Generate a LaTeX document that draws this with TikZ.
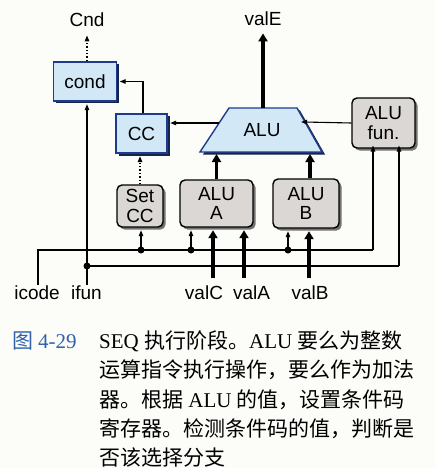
\documentclass[tikz,border=0pt]{standalone}
\usepackage{fontspec}
\usetikzlibrary{shadows,arrows.meta,calc}
\newfontfamily\lab{Liberation Sans}
\newfontfamily\cjk{Noto Sans CJK SC}
\newfontfamily\capser{Liberation Serif}
\newcommand\czh{\cjk\fontsize{21}{21}\selectfont}
\newcommand\ltn{\capser\fontsize{21}{21}\selectfont}
\definecolor{bfill}{HTML}{D3E8F7}
\definecolor{bline}{HTML}{1E3C8E}
\definecolor{bshad}{HTML}{16234A}
\definecolor{gfill}{HTML}{DAD7D4}
\definecolor{capblue}{HTML}{2F62AA}
\definecolor{bgc}{HTML}{FCFCF8}
\begin{document}
\begin{tikzpicture}[x=1pt,y=-1pt,
  bluebox/.style={draw=bline, line width=1.4pt, fill=bfill,
    general shadow={fill=bshad, shadow xshift=2.5pt, shadow yshift=-2.5pt},
    font=\lab\fontsize{19}{20}\selectfont, inner sep=0pt},
  graybox/.style={draw=black, line width=1.4pt, fill=gfill, rounded corners=5pt,
    general shadow={fill=black!55, shadow xshift=2.5pt, shadow yshift=-2.5pt},
    align=center, font=\lab\fontsize{19}{19.5}\selectfont, inner sep=0pt},
  lbl/.style={font=\lab\fontsize{19}{20}\selectfont, inner sep=0pt, anchor=base},
  thinarrow/.style={line width=1.1pt, -{Triangle[length=6pt,width=4.5pt]}},
  thinline/.style={line width=1.1pt},
  thickarrow/.style={line width=3.6pt, -{Triangle[length=8pt,width=9pt]}},
  dotarrow/.style={line width=1.4pt, dotted, -{Triangle[length=6pt,width=4.5pt]}},
  junc/.style={circle, fill=black, inner sep=0pt, minimum size=7pt},
  capline/.style={anchor=base west, inner sep=0pt, font=\ltn}
]
\fill[bgc] (0,0) rectangle (435,468);
\useasboundingbox (0,0) rectangle (435,468);

% boxes
\node[bluebox, minimum width=63pt, minimum height=39pt] (cond) at (85,81.5) {cond};
\node[bluebox, minimum width=51pt, minimum height=39pt] (cc) at (141.5,133.5) {CC};
\node[graybox, minimum width=46pt, minimum height=42pt] (setcc) at (140,206) {Set\\CC};
\node[graybox, minimum width=73pt, minimum height=47pt] (alua) at (216.5,203.5) {ALU\\A};
\node[graybox, minimum width=66pt, minimum height=49pt] (alub) at (306,203.5) {ALU\\B};
\node[graybox, minimum width=63pt, minimum height=50pt] (alufun) at (383.5,123) {ALU\\fun.};

% ALU trapezoid
\fill[bshad] (232,110.5) -- (300,110.5) -- (325,154.5) -- (203,154.5) -- cycle;
\draw[bline, line width=1.4pt, fill=bfill] (229,108) -- (297,108) -- (322,152) -- (200,152) -- cycle;
\node[font=\lab\fontsize{19}{20}\selectfont, inner sep=0pt] (alu) at (262,130) {ALU};
\coordinate (alutop) at (263,108);
\coordinate (alubot) at (262,152);
\coordinate (alur) at (304,122);
\coordinate (alul) at (219,123);

% labels
\node[lbl] (cnd) at (87,27) {Cnd};
\node[lbl] (vale) at (263,26) {valE};
\node[lbl] (icode) at (37,299) {icode};
\node[lbl] (ifun) at (86.5,299) {ifun};
\node[lbl] (valc) at (204,299) {valC};
\node[lbl] (vala) at (251.5,299) {valA};
\node[lbl] (valb) at (310,299) {valB};

% junctions
\coordinate (d1) at (141,250);
\coordinate (d2) at (191,250);
\coordinate (d3) at (288,250);
\coordinate (d4) at (87,266);
\coordinate (fa) at (373,148);
\coordinate (fb) at (399,148);

% thin control lines
\draw[thinline] ([xshift=1pt]icode.north) |- (d1) -- (d2) -- (d3) -- (d3 -| fa);
\draw[thinarrow, shorten >=-2.5pt] (d3 -| fa) -- (fa);
\draw[thinarrow, shorten >=2.5pt] (d4 |- ifun.north) -- (d4) -- (d4 |- cond.south);
\draw[thinline] (d4) -- (d4 -| fb);
\draw[thinarrow, shorten >=-2.5pt] (d4 -| fb) -- (fb);
\draw[thinarrow, shorten >=2.5pt] (d1) -- (d1 |- setcc.south);
\draw[thinarrow, shorten >=2.5pt] (d2) -- (d2 |- alua.south);
\draw[thinarrow, shorten >=2.5pt] (d3) -- (d3 |- alub.south);
\draw[thinarrow, shorten >=-3pt] (alufun.west) -- (alur);
\draw[thinarrow, shorten >=2.5pt] (alul) -- (alul -| cc.east);
\draw[thinarrow, shorten >=2.5pt] ([xshift=1.5pt]cc.north) |- (cond.east);

% dotted
\draw[dotarrow, shorten >=2.5pt] (setcc.north) -- (setcc.north |- cc.south);
\draw[dotarrow, shorten >=8pt] (cnd.south |- cond.north) -- (cnd.south);

% thick data paths
\draw[thickarrow, shorten <=7pt, shorten >=2.5pt] ([xshift=9pt]valc.north) -- ([xshift=9pt]valc.north |- alua.south);
\draw[thickarrow, shorten <=7pt, shorten >=2.5pt] ([xshift=-7.5pt]vala.north) -- ([xshift=-7.5pt]vala.north |- alua.south);
\draw[thickarrow, shorten <=7pt, shorten >=2.5pt] ([xshift=-1pt]valb.north) -- ([xshift=-1pt]valb.north |- alub.south);
\draw[thickarrow, shorten >=2pt] (alua.north) -- (alua.north |- alubot);
\draw[thickarrow, shorten >=2pt] ([xshift=4pt]alub.north) -- ([xshift=4pt]alub.north |- alubot);
\draw[thickarrow, shorten >=7pt] (alutop) -- (vale.south);

% junction dots
\foreach \d in {d1,d2,d3,d4} \node[junc] at (\d) {};

% caption
\node[capline, text=capblue] (fig) at (12,348) {\czh 图\hspace{5pt}\ltn 4-29};
\node[capline] (cap1) at (99,348) {SEQ \czh 执行阶段。\ltn ALU \czh 要么为整数};
\node[capline] (cap2) at (99,377.5) {\czh 运算指令执行操作，要么作为加法};
\node[capline] (cap3) at (99,407) {\czh 器。根据\ltn\ ALU \czh 的值，设置条件码};
\node[capline] (cap4) at (99,436) {\czh 寄存器。检测条件码的值，判断是};
\node[capline] (cap5) at (99,465) {\czh 否该选择分支};
\end{tikzpicture}
\end{document}
